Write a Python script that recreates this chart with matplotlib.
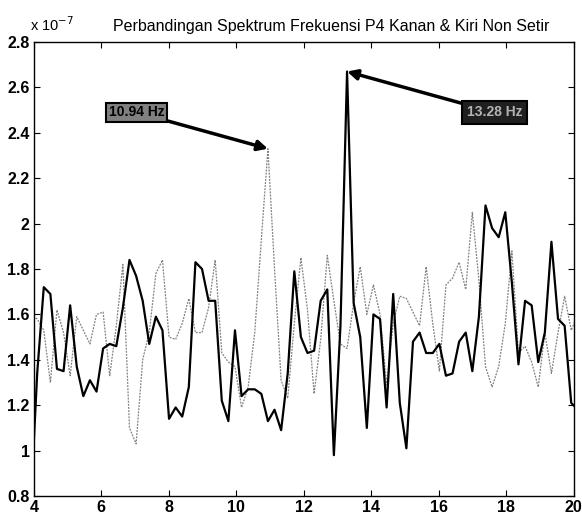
import numpy as np
import matplotlib
matplotlib.use("Agg")
import matplotlib.pyplot as plt

# Frequency bins (fs = 200 Hz, N = 1024 -> 0.1953 Hz resolution)
bins = np.arange(20, 104)
freq = bins * 200.0 / 1024.0

# Spectrum magnitude, units of 1e-7
kanan = [0.75, 1.34, 1.72, 1.69, 1.36, 1.35, 1.64, 1.37, 1.24, 1.31,
         1.26, 1.45, 1.47, 1.46, 1.63, 1.84, 1.77, 1.66, 1.47, 1.59,
         1.53, 1.14, 1.19, 1.15, 1.28, 1.83, 1.80, 1.66, 1.66, 1.22,
         1.13, 1.53, 1.24, 1.27, 1.27, 1.25, 1.13, 1.18, 1.09, 1.34,
         1.79, 1.50, 1.43, 1.44, 1.66, 1.71, 0.98, 1.55, 2.67, 1.65,
         1.50, 1.10, 1.60, 1.58, 1.19, 1.69, 1.21, 1.01, 1.48, 1.52,
         1.43, 1.43, 1.47, 1.33, 1.34, 1.48, 1.52, 1.35, 1.59, 2.08,
         1.98, 1.94, 2.05, 1.74, 1.38, 1.66, 1.64, 1.39, 1.52, 1.92,
         1.58, 1.55, 1.21, 1.18]

kiri = [1.60, 1.58, 1.53, 1.30, 1.62, 1.52, 1.33, 1.59, 1.53, 1.47,
        1.60, 1.61, 1.33, 1.55, 1.82, 1.10, 1.03, 1.40, 1.52, 1.78,
        1.84, 1.50, 1.49, 1.56, 1.67, 1.52, 1.52, 1.63, 1.84, 1.43,
        1.39, 1.37, 1.19, 1.28, 1.52, 1.93, 2.33, 1.80, 1.31, 1.23,
        1.56, 1.85, 1.62, 1.25, 1.49, 1.86, 1.66, 1.47, 1.45, 1.65,
        1.81, 1.60, 1.73, 1.60, 1.29, 1.56, 1.68, 1.67, 1.61, 1.55,
        1.81, 1.56, 1.35, 1.73, 1.76, 1.83, 1.71, 2.05, 1.75, 1.37,
        1.28, 1.37, 1.56, 1.88, 1.43, 1.46, 1.39, 1.28, 1.52, 1.34,
        1.52, 1.68, 1.53, 1.60]

x_ticks = [4, 6, 8, 10, 12, 14, 16, 18, 20]
y_ticks = [0.8, 1.0, 1.2, 1.4, 1.6, 1.8, 2.0, 2.2, 2.4, 2.6, 2.8]
y_labels = ["0.8", "1", "1.2", "1.4", "1.6", "1.8", "2", "2.2", "2.4", "2.6", "2.8"]

title = "Perbandingan Spektrum Frekuensi P4 Kanan & Kiri Non Setir"
peak_labels = ["10.94 Hz", "13.28 Hz"]

plt.rcParams["font.family"] = ["Liberation Sans", "DejaVu Sans"]

fig = plt.figure(figsize=(5.82, 5.22), dpi=100)
ax = fig.add_axes([0.058, 0.0498, 0.928, 0.8697])

ax.plot(freq, kiri, color="0.5", lw=0.9, linestyle=(0, (1.5, 1)))
ax.plot(freq, kanan, color="black", lw=1.6)

ax.set_xlim(4, 20)
ax.set_ylim(0.8, 2.8)
ax.set_xticks(x_ticks)
ax.set_yticks(y_ticks)
ax.set_yticklabels(y_labels)
ax.tick_params(direction="in", top=True, right=True, length=4, width=0.8,
               labelsize=11.5, pad=3)
for lbl in ax.get_xticklabels() + ax.get_yticklabels():
    lbl.set_fontweight("bold")
for sp in ax.spines.values():
    sp.set_linewidth(1.0)

ax.set_title(title, fontsize=11.5, pad=8, x=0.55)
fig.text(0.052, 0.935, r"x 10$^{-7}$", fontsize=10.5, ha="left", va="bottom")

# Peak markers
i1 = int(np.argmax(kiri))
i2 = int(np.argmax(kanan))
ax.annotate(peak_labels[0], xy=(freq[i1], kiri[i1]), xytext=(7.05, 2.49),
            fontsize=10, fontweight="bold", color="black", ha="center", va="center",
            bbox=dict(boxstyle="square,pad=0.2", fc="0.5", ec="black", lw=1.5),
            arrowprops=dict(arrowstyle="-|>", color="black", lw=2.5,
                            mutation_scale=15, shrinkA=0, shrinkB=0))
ax.annotate(peak_labels[1], xy=(freq[i2], kanan[i2]), xytext=(17.65, 2.49),
            fontsize=10, fontweight="bold", color="0.7", ha="center", va="center",
            bbox=dict(boxstyle="square,pad=0.35", fc="0.12", ec="black", lw=1.5),
            arrowprops=dict(arrowstyle="-|>", color="black", lw=2.5,
                            mutation_scale=15, shrinkA=0, shrinkB=0))

fig.savefig("out.png", dpi=100)
